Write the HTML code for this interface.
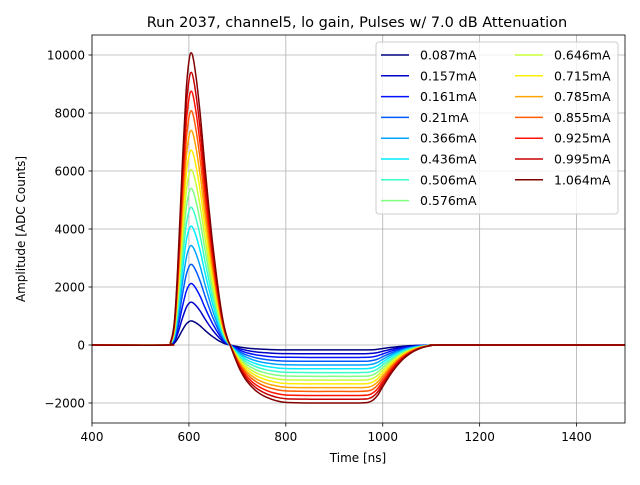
<!DOCTYPE html>
<html><head><meta charset="utf-8"><style>body{margin:0;background:#fff}svg{font-family:"DejaVu Sans","Liberation Sans",sans-serif}</style></head>
<body>
<svg id="chart" width="640" height="480" xmlns="http://www.w3.org/2000/svg">
<rect width="640" height="480" fill="#fff"/>
<text x="357" y="27" font-size="14.5" text-anchor="middle">Run 2037, channel5, lo gain, Pulses w/ 7.0 dB Attenuation</text>
<g id="grid"></g><g id="series"></g>
<rect x="92" y="35" width="533" height="388" fill="none" stroke="#000" stroke-width="0.8"/>
<g id="axes" font-size="12"></g>
<text x="358" y="462" font-size="12" text-anchor="middle">Time [ns]</text>
<text x="25" y="229" font-size="12" text-anchor="middle" transform="rotate(-90 25 229)">Amplitude [ADC Counts]</text>
<g id="legend" font-size="12.5"></g>
</svg>
<script>
const labels=["0.087mA","0.157mA","0.161mA","0.21mA","0.366mA","0.436mA","0.506mA","0.576mA","0.646mA","0.715mA","0.785mA","0.855mA","0.925mA","0.995mA","1.064mA"];
const peaks=[830,1480,2120,2780,3430,4100,4750,5400,6050,6720,7400,8080,8750,9400,10080];
const minima=[-170,-300,-430,-560,-690,-820,-950,-1080,-1210,-1340,-1470,-1600,-1740,-1870,-2000];
const posT=[400,555,562,570,578,586,594,600,605,610,616,624,632,640,648,656,664,672,680,685];
const posShape=[0,0,0.01,0.08,0.3,0.6,0.86,0.97,1.0,0.97,0.9,0.78,0.63,0.49,0.36,0.25,0.15,0.07,0.02,0];
const negT=[685,695,705,720,740,760,780,800,850,900,950,970,980,990,1000,1020,1040,1060,1080,1100,1120,1340,1350,1500];
const negShape=[0,0.22,0.42,0.63,0.8,0.9,0.96,0.99,1,1,1,0.99,0.95,0.86,0.72,0.46,0.26,0.13,0.05,0.01,0,0,0,0];
const xTicks=[400,600,800,1000,1200,1400];
const yTicks=[-2000,0,2000,4000,6000,8000,10000];
const X=t=>92+(t-400)*533/1100;
const Y=v=>345-v*58/2000;
function jet(x){const c=v=>Math.round(255*Math.max(0,Math.min(1,v)));return `rgb(${c(1.5-Math.abs(4*x-3))},${c(1.5-Math.abs(4*x-2))},${c(1.5-Math.abs(4*x-1))})`;}
const NS="http://www.w3.org/2000/svg";
function mk(tag,attrs,parent){const e=document.createElementNS(NS,tag);for(const k in attrs)e.setAttribute(k,attrs[k]);parent.appendChild(e);return e;}
function smooth(p){let d='M'+p[0][0].toFixed(1)+','+p[0][1].toFixed(1);
for(let i=0;i<p.length-1;i++){const p0=p[i-1]||p[i],p1=p[i],p2=p[i+1],p3=p[i+2]||p2;
const c1=[p1[0]+(p2[0]-p0[0])/6,p1[1]+(p2[1]-p0[1])/6],c2=[p2[0]-(p3[0]-p1[0])/6,p2[1]-(p3[1]-p1[1])/6];
d+=`C${c1[0].toFixed(1)},${c1[1].toFixed(1)} ${c2[0].toFixed(1)},${c2[1].toFixed(1)} ${p2[0].toFixed(1)},${p2[1].toFixed(1)}`;}return d;}
const grid=document.getElementById('grid'),axes=document.getElementById('axes');
xTicks.forEach(t=>{const l=mk('line',{x1:X(t),x2:X(t),y1:35,y2:423,stroke:'#b0b0b0','stroke-width':0.8},grid);


mk('line',{x1:X(t),x2:X(t),y1:423,y2:426.5,stroke:'#000','stroke-width':0.8},axes);
const tx=mk('text',{x:X(t),y:441,'text-anchor':'middle'},axes);tx.textContent=t;

});
yTicks.forEach(v=>{const l=mk('line',{x1:92,x2:625,y1:Y(v),y2:Y(v),stroke:'#b0b0b0','stroke-width':0.8},grid);


mk('line',{x1:88.5,x2:92,y1:Y(v),y2:Y(v),stroke:'#000','stroke-width':0.8},axes);
const tx=mk('text',{x:85,y:Y(v)+4.5,'text-anchor':'end'},axes);tx.textContent=v<0?'\u2212'+(-v):v;

});
const ser=document.getElementById('series'),leg=document.getElementById('legend');
const n=labels.length;
const lb=mk('rect',{x:376,y:42,width:242,height:172,rx:3,fill:'#fff','fill-opacity':0.8,stroke:'#ccc'},leg);


labels.forEach((lab,i)=>{const col=jet(i/(n-1));let pts=[];
posT.forEach((t,j)=>pts.push([X(t),Y(peaks[i]*posShape[j])]));
negT.forEach((t,j)=>{if(j>0)pts.push([X(t),Y(minima[i]*negShape[j])]);});
const p=mk('path',{d:smooth(pts),fill:'none',stroke:col,'stroke-width':1.5,'stroke-linejoin':'round'},ser);


const c=i<8?0:1,r=i<8?i:i-8;const lx=c?515:381,ly=55+r*20.8;
const g=mk('g',{},leg);


mk('line',{x1:lx,x2:lx+28,y1:ly,y2:ly,stroke:col,'stroke-width':1.5},g);
const tx=mk('text',{x:lx+39,y:ly+4.5},g);tx.textContent=lab;});
</script>
</body></html>
